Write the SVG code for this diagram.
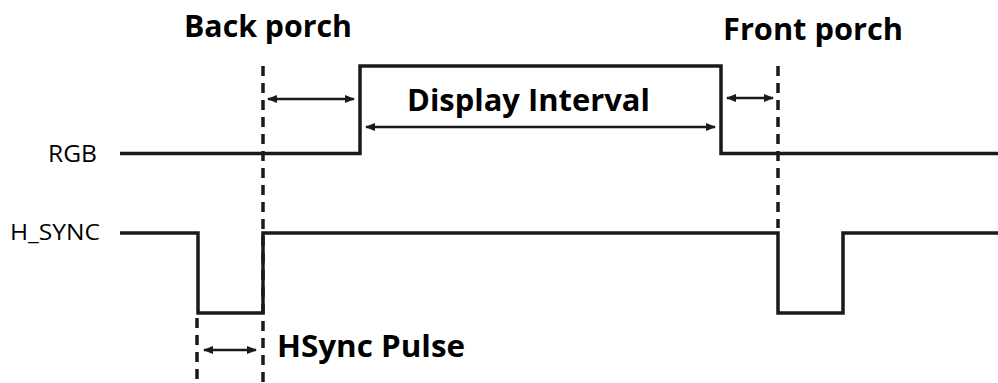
<svg xmlns="http://www.w3.org/2000/svg" width="998" height="383" viewBox="0 0 998 383">
<style>
.sig{fill:none;stroke:#1a1a1a;stroke-width:3.5;stroke-linejoin:miter}
.dash{stroke:#1a1a1a;stroke-width:3.5;stroke-dasharray:10,7}
.arr{stroke:#1a1a1a;stroke-width:2.5;marker-start:url(#ah);marker-end:url(#ah)}
.lbl{font-family:"Open Sans","Liberation Sans",Arial,sans-serif;font-weight:bold;fill:#000}
.sigl{font-family:"Open Sans","Liberation Sans",Arial,sans-serif;fill:#000}
</style>
<defs>
<marker id="ah" viewBox="0 0 10 10" refX="9" refY="5" markerWidth="4" markerHeight="4" orient="auto-start-reverse" markerUnits="strokeWidth">
<path d="M0,1 L10,5 L0,9 Z" fill="#1a1a1a"/>
</marker>
</defs>
<rect width="998" height="383" fill="#fff"/>
<g id="rgb">
<text class="sigl" x="48" y="162" font-size="24" textLength="49" lengthAdjust="spacingAndGlyphs">RGB</text>
</g>
<g id="hsync">
<text class="sigl" x="10" y="240" font-size="22" textLength="90" lengthAdjust="spacingAndGlyphs">H_SYNC</text>
</g>
<g id="signals">
<path class="sig" d="M120,153.5 H360 V66 H721 V153.5 H998"/>
<path class="sig" d="M120,233 H198 V313 H263 V233 H778 V313 H843 V233 H998"/>
</g>
<g id="connectors">
<line class="dash" x1="263" y1="66" x2="263" y2="383"/>
<line class="dash" x1="778" y1="66" x2="778" y2="228"/>
<line class="dash" x1="197" y1="318" x2="197" y2="383"/>
<line class="arr" x1="268" y1="99" x2="354" y2="99"/>
<line class="arr" x1="366" y1="127" x2="715" y2="127"/>
<line class="arr" x1="727" y1="98" x2="773" y2="98"/>
<line class="arr" x1="204" y1="350" x2="256" y2="350"/>
</g>
<g id="back-porch">
<text class="lbl" x="184" y="37" font-size="30" textLength="168" lengthAdjust="spacingAndGlyphs">Back porch</text>
</g>
<g id="front-porch">
<text class="lbl" x="723" y="40" font-size="30" textLength="180" lengthAdjust="spacingAndGlyphs">Front porch</text>
</g>
<g id="display-interval">
<text class="lbl" x="407" y="111" font-size="31" textLength="243" lengthAdjust="spacingAndGlyphs">Display Interval</text>
</g>
<g id="hsync-pulse">
<text class="lbl" x="277" y="357" font-size="30" textLength="188" lengthAdjust="spacingAndGlyphs">HSync Pulse</text>
</g>
</svg>
